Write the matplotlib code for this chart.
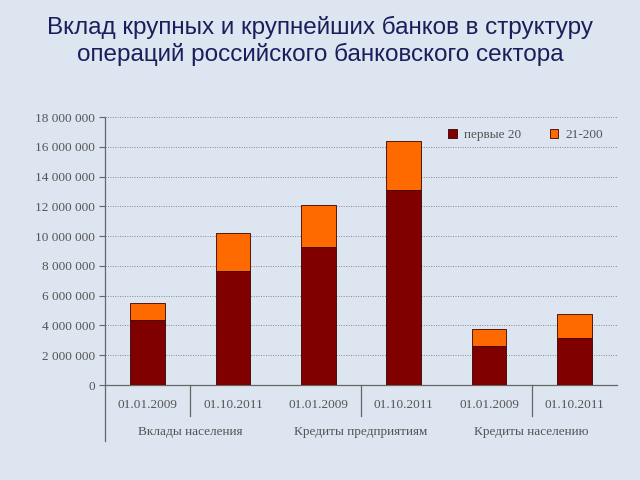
import matplotlib
matplotlib.use('Agg')
import matplotlib.pyplot as plt
import numpy as np

# данные, млн руб. (в тыс.)
dates = ['01.01.2009', '01.10.2011', '01.01.2009', '01.10.2011', '01.01.2009', '01.10.2011']
groups = ['Вклады населения', 'Кредиты предприятиям', 'Кредиты населению']
top20 = [4370000, 7680000, 9290000, 13100000, 2620000, 3180000]
rest = [1120000, 2500000, 2800000, 3300000, 1140000, 1590000]
series_names = ['первые 20', '21-200']

bg = '#dce5f0'
serif = ['Liberation Serif', 'DejaVu Serif']
txt_col = '#555555'

fig = plt.figure(figsize=(6.4, 4.8), dpi=100, facecolor=bg)
ax = fig.add_axes([105/640, 1-385/480, 512/640, 268/480])
ax.set_facecolor(bg)

x = np.arange(len(dates))
ax.bar(x, top20, width=0.41, color='#800000', edgecolor='#3a0000', linewidth=0.6,
       label=series_names[0], zorder=3)
ax.bar(x, rest, width=0.41, bottom=top20, color='#ff6a00', edgecolor='#3a0000',
       linewidth=0.6, label=series_names[1], zorder=3)

ax.set_xlim(-0.5, len(dates) - 0.5)
ax.set_ylim(0, 18000000)
yt = np.arange(0, 18000001, 2000000)
ax.set_yticks(yt)
ax.set_yticklabels(['{:,}'.format(v).replace(',', ' ') for v in yt],
                   family=serif, fontsize=9.5, color=txt_col)
ax.tick_params(axis='y', length=4, color='#666666', pad=3)
ax.set_xticks([])
ax.yaxis.grid(True, linestyle=(0, (1, 1.5)), color='#888888', linewidth=0.7, zorder=0)

for s in ['top', 'right']:
    ax.spines[s].set_visible(False)
ax.spines['left'].set_color('#666666')
ax.spines['bottom'].set_color('#666666')
ax.spines['left'].set_linewidth(0.9)
ax.spines['bottom'].set_linewidth(0.9)

# подписи категорий
trans = ax.get_xaxis_transform()
for i, d in enumerate(dates):
    ax.text(i, -0.075, d, transform=trans, ha='center', va='center',
            family=serif, fontsize=9.5, color=txt_col)
for i, g in enumerate(groups):
    ax.text(2 * i + 0.5, -0.175, g, transform=trans, ha='center', va='center',
            family=serif, fontsize=9.5, color=txt_col)
# разделители
for k in [0.5, 2.5, 4.5]:
    ax.plot([k, k], [0, -0.115], transform=trans, color='#666666', lw=0.9, clip_on=False)
ax.plot([-0.5, -0.5], [0, -0.21], transform=trans, color='#666666', lw=0.9, clip_on=False)

leg = ax.legend(loc='upper right', bbox_to_anchor=(0.995, 1.0), ncol=2, frameon=False,
                prop={'family': serif, 'size': 9.5}, handlelength=0.65, handleheight=0.65,
                columnspacing=2.2, handletextpad=0.5)
for t in leg.get_texts():
    t.set_color(txt_col)

fig.text(0.5, 0.915, 'Вклад крупных и крупнейших банков в структуру\nопераций российского банковского сектора',
         ha='center', va='center', fontsize=17.5, color='#1a1f5c',
         family=['Liberation Sans', 'DejaVu Sans'], linespacing=1.25)

fig.savefig('out.png', dpi=100, facecolor=bg)
